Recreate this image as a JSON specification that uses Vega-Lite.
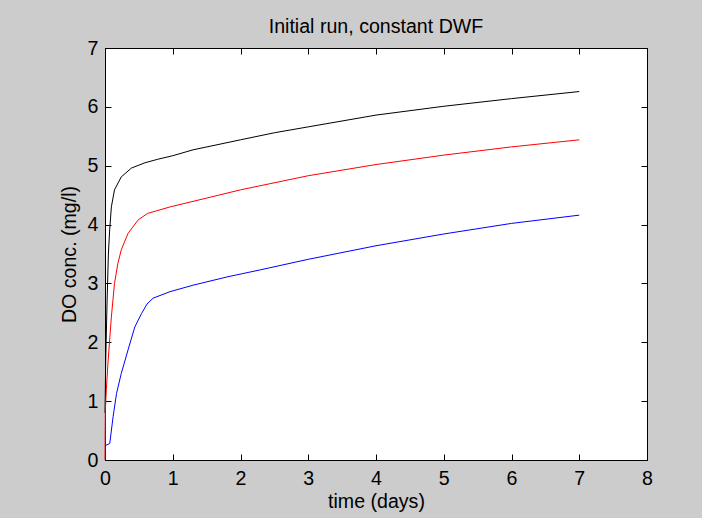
{
  "$schema": "https://vega.github.io/schema/vega-lite/v6.json",
  "width": 542,
  "height": 412,
  "autosize": {"type": "none"},
  "padding": {"left": 105, "top": 48, "right": 55, "bottom": 58},
  "background": "#cccccc",
  "title": {
    "text": "Initial run, constant DWF",
    "font": "Liberation Sans",
    "fontSize": 19.6,
    "fontWeight": "normal",
    "color": "#000000",
    "anchor": "middle",
    "baseline": "alphabetic",
    "offset": -15
  },
  "config": {
    "view": {"fill": "#ffffff", "stroke": "#000000", "strokeWidth": 1},
    "axis": {
      "grid": false,
      "domainColor": "#000000",
      "tickColor": "#000000",
      "labelColor": "#000000",
      "titleColor": "#000000",
      "labelFont": "Liberation Sans",
      "titleFont": "Liberation Sans",
      "labelFontSize": 19.6,
      "titleFontSize": 19.6,
      "titleFontWeight": "normal",
      "labelFlush": false,
      "labelOverlap": false,
      "tickSize": -6
    }
  },
  "data": {
    "values": [
      {"t": 0, "DO": 0.8, "series": "A"},
      {"t": 0.01, "DO": 1.65, "series": "A"},
      {"t": 0.03, "DO": 2.67, "series": "A"},
      {"t": 0.05, "DO": 3.5, "series": "A"},
      {"t": 0.069, "DO": 3.91, "series": "A"},
      {"t": 0.094, "DO": 4.3, "series": "A"},
      {"t": 0.14, "DO": 4.59, "series": "A"},
      {"t": 0.24, "DO": 4.81, "series": "A"},
      {"t": 0.39, "DO": 4.96, "series": "A"},
      {"t": 0.59, "DO": 5.05, "series": "A"},
      {"t": 0.78, "DO": 5.11, "series": "A"},
      {"t": 1.0, "DO": 5.17, "series": "A"},
      {"t": 1.3, "DO": 5.27, "series": "A"},
      {"t": 2.0, "DO": 5.44, "series": "A"},
      {"t": 2.5, "DO": 5.56, "series": "A"},
      {"t": 3.0, "DO": 5.66, "series": "A"},
      {"t": 4.0, "DO": 5.86, "series": "A"},
      {"t": 5.0, "DO": 6.01, "series": "A"},
      {"t": 6.0, "DO": 6.14, "series": "A"},
      {"t": 7.0, "DO": 6.26, "series": "A"},
      {"t": 0, "DO": 0, "series": "B"},
      {"t": 0.005, "DO": 0.85, "series": "B"},
      {"t": 0.02, "DO": 1.2, "series": "B"},
      {"t": 0.044, "DO": 1.65, "series": "B"},
      {"t": 0.094, "DO": 2.43, "series": "B"},
      {"t": 0.14, "DO": 3.0, "series": "B"},
      {"t": 0.19, "DO": 3.34, "series": "B"},
      {"t": 0.24, "DO": 3.57, "series": "B"},
      {"t": 0.34, "DO": 3.85, "series": "B"},
      {"t": 0.49, "DO": 4.08, "series": "B"},
      {"t": 0.63, "DO": 4.19, "series": "B"},
      {"t": 0.96, "DO": 4.3, "series": "B"},
      {"t": 1.5, "DO": 4.45, "series": "B"},
      {"t": 2.0, "DO": 4.59, "series": "B"},
      {"t": 3.0, "DO": 4.83, "series": "B"},
      {"t": 4.0, "DO": 5.02, "series": "B"},
      {"t": 5.0, "DO": 5.18, "series": "B"},
      {"t": 6.0, "DO": 5.32, "series": "B"},
      {"t": 7.0, "DO": 5.44, "series": "B"},
      {"t": 0.015, "DO": 0.25, "series": "C"},
      {"t": 0.07, "DO": 0.28, "series": "C"},
      {"t": 0.12, "DO": 0.74, "series": "C"},
      {"t": 0.17, "DO": 1.13, "series": "C"},
      {"t": 0.24, "DO": 1.47, "series": "C"},
      {"t": 0.34, "DO": 1.87, "series": "C"},
      {"t": 0.44, "DO": 2.26, "series": "C"},
      {"t": 0.54, "DO": 2.49, "series": "C"},
      {"t": 0.62, "DO": 2.65, "series": "C"},
      {"t": 0.71, "DO": 2.75, "series": "C"},
      {"t": 0.96, "DO": 2.86, "series": "C"},
      {"t": 1.3, "DO": 2.97, "series": "C"},
      {"t": 1.8, "DO": 3.11, "series": "C"},
      {"t": 2.29, "DO": 3.23, "series": "C"},
      {"t": 3.0, "DO": 3.41, "series": "C"},
      {"t": 4.0, "DO": 3.64, "series": "C"},
      {"t": 5.0, "DO": 3.84, "series": "C"},
      {"t": 6.0, "DO": 4.02, "series": "C"},
      {"t": 7.0, "DO": 4.16, "series": "C"}
    ]
  },
  "layer": [
    {
      "mark": {"type": "line", "strokeWidth": 1, "interpolate": "linear"},
      "encoding": {
        "x": {
          "field": "t",
          "type": "quantitative",
          "scale": {"domain": [0, 8], "nice": false, "zero": false},
          "axis": {"values": [0, 1, 2, 3, 4, 5, 6, 7, 8], "title": "time (days)", "labelPadding": 15, "titlePadding": 5}
        },
        "y": {
          "field": "DO",
          "type": "quantitative",
          "scale": {"domain": [0, 7], "nice": false, "zero": false},
          "axis": {"values": [0, 1, 2, 3, 4, 5, 6, 7], "title": "DO conc. (mg/l)", "labelPadding": 13, "titlePadding": 8}
        },
        "color": {
          "field": "series",
          "type": "nominal",
          "scale": {"domain": ["A", "B", "C"], "range": ["#000000", "#ff0000", "#0000ff"]},
          "legend": null
        }
      }
    },
    {
      "mark": {"type": "line", "opacity": 0},
      "encoding": {
        "x": {
          "field": "t",
          "type": "quantitative",
          "axis": {"orient": "top", "values": [0, 1, 2, 3, 4, 5, 6, 7, 8], "labels": false, "title": null}
        },
        "y": {
          "field": "DO",
          "type": "quantitative",
          "axis": {"orient": "right", "values": [0, 1, 2, 3, 4, 5, 6, 7], "labels": false, "title": null}
        },
        "detail": {"field": "series"}
      }
    }
  ],
  "resolve": {"axis": {"x": "independent", "y": "independent"}}
}
